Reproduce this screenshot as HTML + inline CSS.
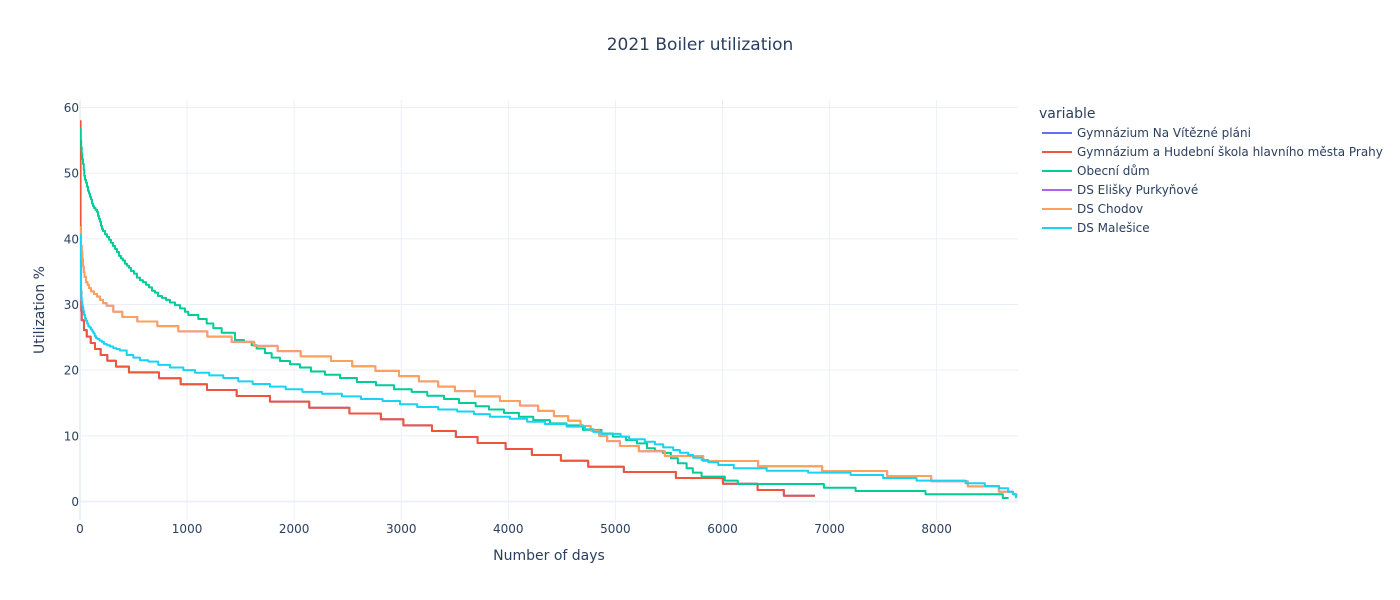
<!DOCTYPE html>
<html lang="en">
<head>
<meta charset="utf-8">
<title>2021 Boiler utilization</title>
<style>
  html, body { margin: 0; padding: 0; background: #fff; }
  svg { display: block; font-family: "DejaVu Sans", "Liberation Sans", sans-serif; fill: #2a3f5f; }
  .grid { stroke: #EBF0F8; stroke-width: 1; fill: none; }
  .zero { stroke: #EBF0F8; stroke-width: 2; fill: none; }
  .tick { font-size: 12px; }
  .series { fill: none; stroke-width: 2; stroke-linejoin: round; }
  .leg { font-size: 12px; }
</style>
</head>
<body>
<svg id="chart" xmlns="http://www.w3.org/2000/svg" width="1400" height="600" viewBox="0 0 1400 600">
  <defs>
    <clipPath id="plot-clip"><rect x="80" y="100" width="938" height="420"></rect></clipPath>
  </defs>
  <rect x="0" y="0" width="1400" height="600" fill="#fff"></rect>
  <g id="grid"></g>
  <g id="ticks"></g>
  <g id="lines" clip-path="url(#plot-clip)"></g>
  <text x="700" y="50" text-anchor="middle" font-size="17">2021 Boiler utilization</text>
  <text x="549" y="560" text-anchor="middle" font-size="14">Number of days</text>
  <text transform="translate(44,310) rotate(-90)" text-anchor="middle" font-size="14">Utilization %</text>
  <g id="legend">
    <text x="1039" y="118" font-size="14">variable</text>
    <g>
      <line x1="1042" x2="1072" y1="133" y2="133" stroke="#636efa" stroke-width="2"></line>
      <text class="leg" x="1077" y="137">Gymnázium Na Vítězné pláni</text>
    </g>
    <g>
      <line x1="1042" x2="1072" y1="152" y2="152" stroke="#EF553B" stroke-width="2"></line>
      <text class="leg" x="1077" y="156">Gymnázium a Hudební škola hlavního města Prahy</text>
    </g>
    <g>
      <line x1="1042" x2="1072" y1="171" y2="171" stroke="#00cc96" stroke-width="2"></line>
      <text class="leg" x="1077" y="175">Obecní dům</text>
    </g>
    <g>
      <line x1="1042" x2="1072" y1="190" y2="190" stroke="#ab63fa" stroke-width="2"></line>
      <text class="leg" x="1077" y="194">DS Elišky Purkyňové</text>
    </g>
    <g>
      <line x1="1042" x2="1072" y1="209" y2="209" stroke="#FFA15A" stroke-width="2"></line>
      <text class="leg" x="1077" y="213">DS Chodov</text>
    </g>
    <g>
      <line x1="1042" x2="1072" y1="228" y2="228" stroke="#19d3f3" stroke-width="2"></line>
      <text class="leg" x="1077" y="232">DS Malešice</text>
    </g>
  </g>
</svg>
<script>
var xTickValues = [0, 1000, 2000, 3000, 4000, 5000, 6000, 7000, 8000];
var yTickValues = [0, 10, 20, 30, 40, 50, 60];

var redDays = [0, 5, 7, 12, 16, 37, 63, 100, 140, 193, 255, 336, 457, 738, 940, 1186, 1463, 1774, 2141, 2516, 2810, 3020, 3287, 3510, 3713, 3975, 4220, 4491, 4746, 5079, 5565, 6004, 6328, 6573, 6863];
var redUtil = [57.9, 42, 32, 29, 27.6, 26.1, 25.1, 24.14, 23.22, 22.31, 21.44, 20.53, 19.67, 18.76, 17.85, 16.98, 16.07, 15.2, 14.28, 13.4, 12.52, 11.6, 10.74, 9.82, 8.91, 7.99, 7.08, 6.21, 5.3, 4.49, 3.58, 2.71, 1.75, 0.88, 0.88];

var greenDays = [0, 3, 7, 11, 16, 21, 28, 35, 40, 47, 56, 65, 75, 84, 93, 103, 112, 121, 131, 145, 159, 168, 177, 187, 196, 205, 215, 233, 252, 271, 289, 308, 327, 345, 364, 383, 401, 420, 439, 457, 476, 504, 532, 560, 588, 616, 644, 672, 700, 728, 766, 803, 840, 887, 934, 980, 1011, 1105, 1183, 1245, 1323, 1447, 1531, 1603, 1650, 1727, 1790, 1867, 1961, 2054, 2157, 2288, 2428, 2586, 2764, 2932, 3097, 3243, 3399, 3539, 3695, 3819, 3959, 4099, 4233, 4388, 4544, 4697, 4871, 4977, 5098, 5201, 5295, 5369, 5443, 5518, 5583, 5665, 5723, 5805, 6022, 6143, 6947, 7243, 7896, 8618, 8672];
var greenUtil = [56.7, 56.7, 55, 53.95, 53, 52.15, 51.4, 50.5, 49.6, 49, 48.55, 47.95, 47.3, 46.9, 46.4, 46, 45.4, 45, 44.7, 44.4, 44.1, 43.5, 43.05, 42.6, 42, 41.5, 41.2, 40.7, 40.3, 39.85, 39.4, 38.9, 38.45, 38, 37.4, 37, 36.7, 36.2, 35.9, 35.6, 35.1, 34.7, 34.1, 33.7, 33.4, 33, 32.6, 32.1, 31.8, 31.3, 31, 30.7, 30.3, 29.9, 29.4, 28.9, 28.4, 27.8, 27.1, 26.4, 25.7, 24.6, 24.3, 23.8, 23.3, 22.6, 21.9, 21.4, 20.9, 20.4, 19.8, 19.3, 18.8, 18.2, 17.7, 17.1, 16.7, 16.1, 15.6, 15, 14.5, 14, 13.5, 12.9, 12.4, 11.9, 11.6, 10.9, 10.35, 9.87, 9.36, 8.86, 8.1, 7.7, 7.4, 6.58, 5.82, 5.06, 4.39, 3.78, 3.17, 2.66, 2.1, 1.6, 1.1, 0.53, 0.53];

var orangeDays = [0, 7, 16, 21, 28, 35, 42, 56, 70, 84, 103, 131, 159, 187, 215, 249, 311, 395, 535, 722, 918, 1189, 1416, 1627, 1846, 2061, 2344, 2542, 2759, 2979, 3165, 3345, 3501, 3688, 3922, 4108, 4279, 4426, 4559, 4675, 4769, 4849, 4923, 5042, 5219, 5462, 5820, 6333, 6931, 7538, 7949, 8291, 8581, 8712, 8746];
var orangeUtil = [41.8, 39, 38, 36.9, 35.8, 34.9, 34.2, 33.4, 33, 32.5, 32, 31.6, 31.2, 30.7, 30.2, 29.8, 28.9, 28.1, 27.4, 26.7, 25.9, 25.1, 24.3, 23.7, 22.9, 22.1, 21.4, 20.6, 19.9, 19.1, 18.3, 17.5, 16.8, 16, 15.3, 14.6, 13.8, 13, 12.3, 11.5, 10.8, 10, 9.2, 8.45, 7.65, 6.93, 6.17, 5.36, 4.64, 3.88, 3.08, 2.31, 1.49, 1.1, 0.64];

var cyanDays = [0, 3, 5, 7, 11, 16, 21, 25, 31, 37, 47, 56, 67, 77, 89, 103, 115, 126, 138, 149, 163, 182, 203, 224, 249, 280, 311, 341, 373, 436, 498, 560, 638, 731, 840, 965, 1074, 1207, 1338, 1478, 1613, 1774, 1921, 2077, 2260, 2446, 2624, 2826, 2988, 3149, 3345, 3523, 3679, 3828, 4015, 4176, 4342, 4544, 4715, 4793, 4871, 5049, 5129, 5275, 5369, 5446, 5540, 5602, 5680, 5726, 5805, 5866, 5960, 6106, 6412, 6800, 7196, 7500, 7812, 8270, 8450, 8584, 8668, 8715, 8740];
var cyanUtil = [40.6, 40.6, 36, 32.2, 31.1, 30.5, 29.95, 29.6, 29, 28.4, 27.9, 27.5, 27.1, 26.7, 26.5, 26.2, 25.9, 25.6, 25.2, 24.9, 24.75, 24.5, 24.3, 24, 23.8, 23.6, 23.35, 23.2, 23, 22.3, 21.9, 21.5, 21.3, 20.8, 20.4, 20, 19.6, 19.2, 18.8, 18.3, 17.9, 17.5, 17.1, 16.7, 16.4, 16, 15.6, 15.3, 14.8, 14.4, 14, 13.7, 13.3, 12.9, 12.6, 12.15, 11.8, 11.4, 11, 10.6, 10.3, 9.87, 9.47, 9.1, 8.7, 8.25, 7.84, 7.43, 7.08, 6.67, 6.32, 5.97, 5.56, 5.06, 4.69, 4.39, 4.04, 3.58, 3.17, 2.77, 2.36, 2.01, 1.49, 1.1, 0.49];

var SVG_NS = 'http://www.w3.org/2000/svg';
var PLOT_LEFT = 80, PLOT_RIGHT = 1018, PLOT_TOP = 100, PLOT_BOTTOM = 520;

function xScale(day) {
  return PLOT_LEFT + day * 0.10708;
}
function yScale(util) {
  return 501.5 - util * 6.567;
}
function stepPath(days, utils) {
  var d = 'M' + xScale(days[0]).toFixed(2) + ' ' + yScale(utils[0]).toFixed(2);
  for (var i = 1; i < days.length; i++) {
    d += 'H' + xScale(days[i]).toFixed(2) + 'V' + yScale(utils[i]).toFixed(2);
  }
  return d;
}

var gridGroup = document.getElementById('grid');
var tickGroup = document.getElementById('ticks');
var lineGroup = document.getElementById('lines');

xTickValues.forEach(function (v) {
  var px = xScale(v);
  var ln = document.createElementNS(SVG_NS, 'line');
  
  
  ln.setAttribute('class', v === 0 ? 'zero' : 'grid');
  ln.setAttribute('x1', px);
  ln.setAttribute('x2', px);
  ln.setAttribute('y1', PLOT_TOP);
  ln.setAttribute('y2', PLOT_BOTTOM);
  gridGroup.appendChild(ln);
  var t = document.createElementNS(SVG_NS, 'text');
  
  
  t.setAttribute('class', 'tick');
  t.setAttribute('x', px);
  t.setAttribute('y', 533);
  t.setAttribute('text-anchor', 'middle');
  t.textContent = String(v);
  tickGroup.appendChild(t);
});

yTickValues.forEach(function (v) {
  var py = yScale(v);
  var ln = document.createElementNS(SVG_NS, 'line');
  
  
  ln.setAttribute('class', v === 0 ? 'zero' : 'grid');
  ln.setAttribute('x1', PLOT_LEFT);
  ln.setAttribute('x2', PLOT_RIGHT);
  ln.setAttribute('y1', py);
  ln.setAttribute('y2', py);
  gridGroup.appendChild(ln);
  var t = document.createElementNS(SVG_NS, 'text');
  
  
  t.setAttribute('class', 'tick');
  t.setAttribute('x', 79);
  t.setAttribute('y', py + 4.5);
  t.setAttribute('text-anchor', 'end');
  t.textContent = String(v);
  tickGroup.appendChild(t);
});

function addSeries(name, color, days, utils) {
  var p = document.createElementNS(SVG_NS, 'path');
  
  
  p.setAttribute('class', 'series');
  p.setAttribute('stroke', color);
  p.setAttribute('d', stepPath(days, utils));
  lineGroup.appendChild(p);
}

addSeries('line-gymnazium-na-vitezne-plani', '#636efa', redDays, redUtil);
addSeries('line-gymnazium-a-hudebni-skola', '#EF553B', redDays, redUtil);
addSeries('line-obecni-dum', '#00cc96', greenDays, greenUtil);
addSeries('line-ds-elisky-purkynove', '#ab63fa', orangeDays, orangeUtil);
addSeries('line-ds-chodov', '#FFA15A', orangeDays, orangeUtil);
addSeries('line-ds-malesice', '#19d3f3', cyanDays, cyanUtil);
</script>
</body>
</html>
